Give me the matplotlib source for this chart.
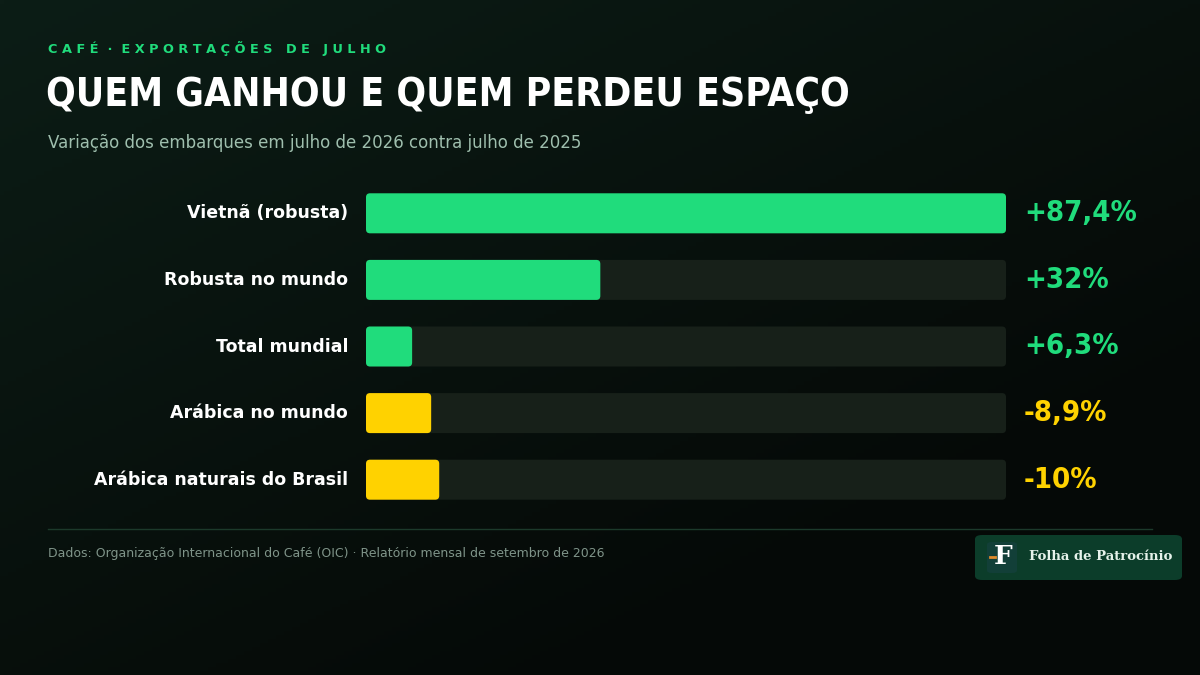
import numpy as np
import matplotlib.pyplot as plt
from matplotlib.patches import FancyBboxPatch

CATEGORIES = ["Vietnã (robusta)", "Robusta no mundo", "Total mundial",
              "Arábica no mundo", "Arábica naturais do Brasil"]
VALUES     = [87.4, 32.0, 6.3, -8.9, -10.0]
LABELS     = ["+87,4%", "+32%", "+6,3%", "-8,9%", "-10%"]

GREEN  = "#20dc7c"
YELLOW = "#ffd200"
TRACK  = "#172019"
W, H   = 1200, 675

fig = plt.figure(figsize=(12, 6.75), dpi=100)

# background gradient
bg = fig.add_axes([0, 0, 1, 1])
gx, gy = np.meshgrid(np.linspace(0, 1, 300), np.linspace(0, 1, 170))
g = np.clip(1 - (gx * 0.6 + gy * 0.7), 0, 1)
c0 = np.array([0x05, 0x09, 0x07]) / 255
c1 = np.array([0x0c, 0x1d, 0x16]) / 255
img = c0 + (c1 - c0) * g[..., None]
bg.imshow(img, extent=[0, 1, 0, 1], aspect="auto", origin="upper")
bg.set_xlim(0, 1); bg.set_ylim(0, 1); bg.axis("off")

def fx(px): return px / W
def fy(py): return 1 - py / H

fig.text(fx(48), fy(48), "C A F É  ·  E X P O R T A Ç Õ E S   D E   J U L H O",
         color=GREEN, fontsize=9.3, fontweight="bold", va="center")
fig.text(fx(46), fy(95), "QUEM GANHOU E QUEM PERDEU ESPAÇO", color="white",
         fontsize=28, fontweight="heavy", va="center",
         family=["DejaVu Sans"], fontstretch="condensed")
fig.text(fx(48), fy(143), "Variação dos embarques em julho de 2026 contra julho de 2025",
         color="#9fbfae", fontsize=12, va="center")

# bars
x0, x1, yt, yb = 366, 1006, 180, 513
ax = fig.add_axes([fx(x0), fy(yb), fx(x1 - x0), (yb - yt) / H])
vmax = max(abs(v) for v in VALUES)
n = len(CATEGORIES)
ax.set_xlim(0, vmax); ax.set_ylim(n - 0.5, -0.5); ax.axis("off")
pxu_x = (x1 - x0) / vmax
pxu_y = (yb - yt) / n
r = 4 / pxu_x
asp = pxu_x / pxu_y
bh = 40 / pxu_y
for i, (cat, v, lab) in enumerate(zip(CATEGORIES, VALUES, LABELS)):
    col = GREEN if v >= 0 else YELLOW
    ax.add_patch(FancyBboxPatch((0, i - bh / 2), vmax, bh,
                 boxstyle=f"round,pad=0,rounding_size={r}", mutation_aspect=asp,
                 fc=TRACK, ec="none"))
    ax.add_patch(FancyBboxPatch((0, i - bh / 2), abs(v), bh,
                 boxstyle=f"round,pad=0,rounding_size={r}", mutation_aspect=asp,
                 fc=col, ec="none"))
    ax.text(-18 / pxu_x, i, cat, ha="right", va="center", color="white",
            fontsize=12.5, fontweight="bold", clip_on=False)
    ax.text(vmax + 18 / pxu_x, i, lab, ha="left", va="center", color=col,
            fontsize=21, fontweight="bold", fontstretch="condensed", clip_on=False)

# footer
bg.plot([fx(48), fx(1152)], [fy(529), fy(529)], color="#1c3a2b", lw=1)
fig.text(fx(48), fy(554), "Dados: Organização Internacional do Café (OIC) · Relatório mensal de setembro de 2026",
         color="#7f9489", fontsize=9, va="center")
bg.add_patch(FancyBboxPatch((fx(975), fy(580)), fx(207), (580 - 535) / H,
             boxstyle="round,pad=0,rounding_size=0.006", fc="#0c3d2a", ec="none"))
bg.add_patch(FancyBboxPatch((fx(987), fy(573)), fx(30), 31 / H,
             boxstyle="round,pad=0,rounding_size=0.004", fc="#123f38", ec="none"))
fig.text(fx(1003), fy(557), "F", color="white", fontsize=19, fontweight="bold",
         family="DejaVu Serif", ha="center", va="center")
bg.plot([fx(990), fx(995)], [fy(557), fy(557)], color="#e08a2a", lw=2)
fig.text(fx(1029), fy(557), "Folha de Patrocínio", color="#e6f2ea", fontsize=9.5,
         fontweight="bold", family="DejaVu Serif", va="center")

fig.savefig("out.png", dpi=100)
